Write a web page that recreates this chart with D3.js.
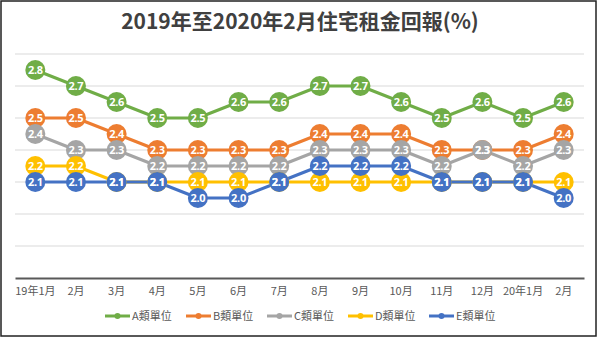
<!DOCTYPE html>
<html>
<head>
<meta charset="utf-8">
<script src="https://cdn.jsdelivr.net/npm/d3@7/dist/d3.min.js"></script>
<style>
  html, body { margin: 0; padding: 0; background: #fff; }
  svg { display: block; }
</style>
</head>
<body>
<svg id="chart" width="600" height="340"></svg>
<script>
// Monthly labels, Jan 2019 to Feb 2020
const months = ["19年1月", "2月", "3月", "4月", "5月", "6月", "7月", "8月", "9月", "10月", "11月", "12月", "20年1月", "2月"];

// Rental yield (%) by unit class
const seriesNames = ["A類單位", "B類單位", "C類單位", "D類單位", "E類單位"];
const classA = [2.8, 2.7, 2.6, 2.5, 2.5, 2.6, 2.6, 2.7, 2.7, 2.6, 2.5, 2.6, 2.5, 2.6];
const classB = [2.5, 2.5, 2.4, 2.3, 2.3, 2.3, 2.3, 2.4, 2.4, 2.4, 2.3, 2.3, 2.3, 2.4];
const classC = [2.4, 2.3, 2.3, 2.2, 2.2, 2.2, 2.2, 2.3, 2.3, 2.3, 2.2, 2.3, 2.2, 2.3];
const classD = [2.2, 2.2, 2.1, 2.1, 2.1, 2.1, 2.1, 2.1, 2.1, 2.1, 2.1, 2.1, 2.1, 2.1];
const classE = [2.1, 2.1, 2.1, 2.1, 2.0, 2.0, 2.1, 2.2, 2.2, 2.2, 2.1, 2.1, 2.1, 2.0];
const gridTicks = [1.5, 1.7, 1.9, 2.1, 2.3, 2.5, 2.7, 2.9];

const colors = ["#70AD47", "#ED7D31", "#A5A5A5", "#FFC000", "#4472C4"];
const series = [classA, classB, classC, classD, classE].map((values, i) => ({
  name: seriesNames[i], color: colors[i], values
}));

const svg = d3.select("#chart");
const W = 600, H = 340;
const plot = { left: 15, right: 584, top: 54, bottom: 278 };

const x = d3.scaleBand().domain(d3.range(months.length)).range([plot.left, plot.right]);
const y = d3.scaleLinear().domain([1.5, 2.9]).range([plot.bottom, plot.top]);
const cx = i => x(i) + x.bandwidth() / 2;

// outer frame
svg.append("rect")
  .attr("x", 1).attr("y", 1).attr("width", W - 5).attr("height", H - 5)
  .attr("fill", "#fff").attr("stroke", "#222").attr("stroke-width", 1.5);

// title
svg.append("text")
  .attr("x", 300).attr("y", 29)
  .attr("text-anchor", "middle")
  .attr("font-family", "'Noto Sans CJK TC', 'Noto Sans', sans-serif")
  .attr("font-weight", "bold")
  .attr("font-size", 21)
  .attr("fill", "#404040")
  .text("2019年至2020年2月住宅租金回報(%)");

// horizontal gridlines
svg.append("g")
  .selectAll("line")
  .data(gridTicks.slice(1))
  .join("line")
  .attr("x1", plot.left).attr("x2", plot.right)
  .attr("y1", d => y(d)).attr("y2", d => y(d))
  .attr("stroke", "#d9d9d9").attr("stroke-width", 1);

// category axis
const xAxis = svg.append("g")
  .attr("transform", `translate(0,${plot.bottom})`)
  .call(d3.axisBottom(x).tickSize(0).tickPadding(9).tickFormat(i => months[i]));
xAxis.select(".domain").attr("stroke", "#595959").attr("stroke-width", 2);
xAxis.selectAll("text")
  .attr("font-family", "'Noto Sans CJK TC', 'Noto Sans', sans-serif")
  .attr("font-size", 11)
  .attr("fill", "#595959");

const line = d3.line().x((d, i) => cx(i)).y(d => y(d));

// lines, in series order
svg.append("g")
  .selectAll("path")
  .data(series)
  .join("path")
  .attr("d", s => line(s.values))
  .attr("fill", "none")
  .attr("stroke", s => s.color)
  .attr("stroke-width", 3)
  .attr("stroke-linejoin", "round");

// markers, each series above the previous one
const markerGroups = svg.append("g")
  .selectAll("g")
  .data(series)
  .join("g");
markerGroups.selectAll("circle")
  .data(s => s.values.map((v, i) => ({ v, i, color: s.color })))
  .join("circle")
  .attr("cx", d => cx(d.i))
  .attr("cy", d => y(d.v))
  .attr("r", 10)
  .attr("fill", d => d.color);

// value labels
const labelGroups = svg.append("g")
  .selectAll("g")
  .data(series)
  .join("g");
labelGroups.selectAll("text")
  .data(s => s.values.map((v, i) => ({ v, i })))
  .join("text")
  .attr("x", d => cx(d.i))
  .attr("y", d => y(d.v))
  .attr("dy", "0.36em")
  .attr("text-anchor", "middle")
  .attr("font-family", "'Open Sans', 'Noto Sans', sans-serif")
  .attr("font-weight", "bold")
  .attr("font-size", 11)
  .attr("letter-spacing", -0.3)
  .attr("fill", "#fff")
  .text(d => d.v.toFixed(1));

// legend
const legend = svg.append("g").attr("transform", "translate(105,316)");
const item = legend.selectAll("g")
  .data(series)
  .join("g")
  .attr("transform", (d, i) => `translate(${i * 81},0)`);
item.append("line")
  .attr("x1", 0).attr("x2", 25).attr("y1", 0).attr("y2", 0)
  .attr("stroke", d => d.color).attr("stroke-width", 3);
item.append("circle")
  .attr("cx", 12.5).attr("cy", 0).attr("r", 3)
  .attr("fill", d => d.color);
item.append("text")
  .attr("x", 27).attr("y", 0).attr("dy", "0.36em")
  .attr("font-family", "'Noto Sans CJK TC', 'Noto Sans', sans-serif")
  .attr("font-size", 11)
  .attr("fill", "#595959")
  .text(d => d.name);
</script>
</body>
</html>
